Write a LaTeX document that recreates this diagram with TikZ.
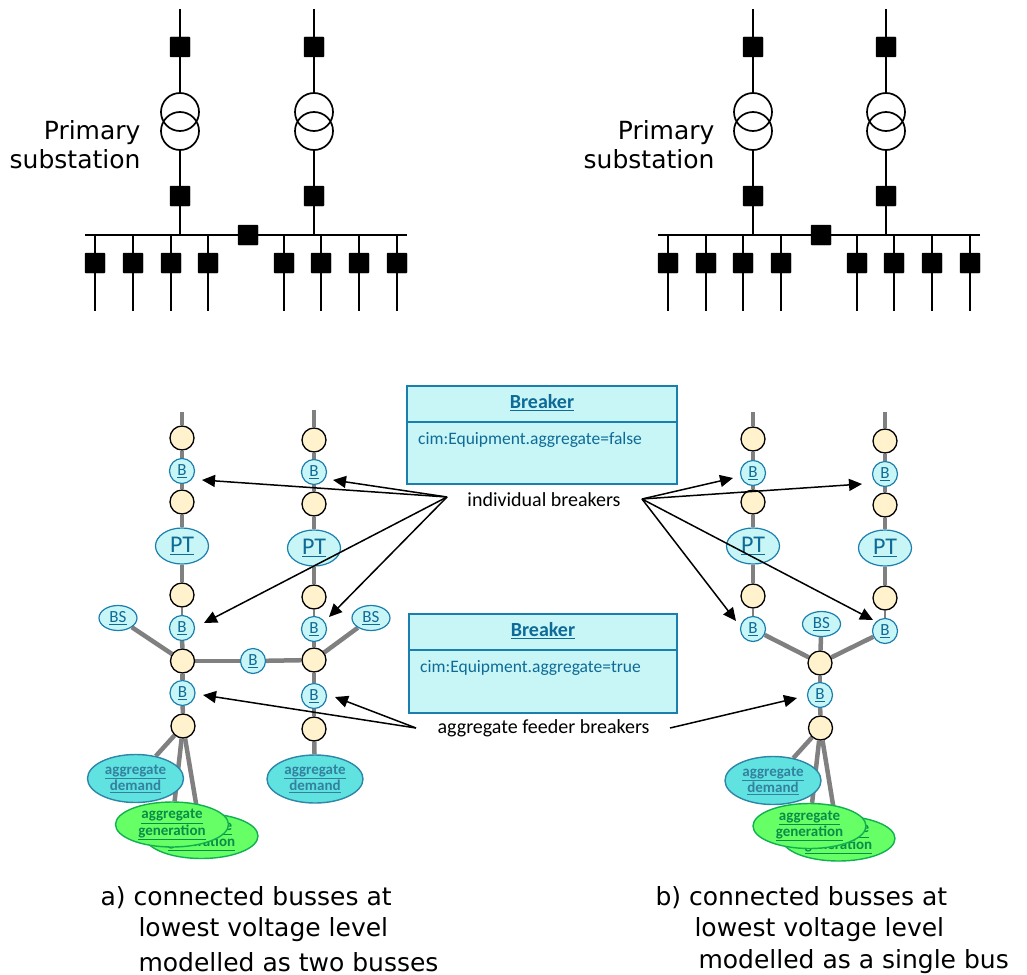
\documentclass[tikz,border=0pt]{standalone}
\usepackage{fontspec}
\setmainfont{DejaVu Sans}
\newfontfamily\carlito{Carlito}
\usetikzlibrary{shapes.geometric,backgrounds,arrows.meta}
\definecolor{objblue}{HTML}{1A7FAF}
\definecolor{objtext}{HTML}{0E6A96}
\definecolor{objfill}{HTML}{C8F6F6}
\definecolor{yardfill}{HTML}{FFF2CC}
\definecolor{demfill}{HTML}{60E3E0}
\definecolor{demline}{HTML}{2F85A5}
\definecolor{demtext}{HTML}{34809F}
\definecolor{genfill}{HTML}{66FF66}
\definecolor{genline}{HTML}{10B050}
\definecolor{gentext}{HTML}{0B8C48}
\tikzset{
  wire/.style={line width=1.7},
  bkr/.style={draw,fill=black,minimum size=20,inner sep=0,rounded corners=.6},
  xfmr/.style={draw,circle,line width=1.7,minimum size=38,inner sep=0},
  sublabel/.style={align=right,anchor=east,font=\fontsize{25}{29}\selectfont},
  caption/.style={anchor=west,font=\fontsize{25}{30}\selectfont},
  gline/.style={draw=black!50,line width=4.5},
  thinline/.style={draw=black!50,line width=2.2},
  yard/.style={draw,circle,fill=yardfill,line width=1.3,minimum size=24,inner sep=0},
  bobj/.style={draw=objblue,circle,fill=objfill,line width=1.2,minimum size=25,inner sep=0,text=objtext,font=\carlito\fontsize{17}{17}\selectfont},
  bsobj/.style={draw=objblue,ellipse,fill=objfill,line width=1.2,minimum width=38,minimum height=25,inner sep=0,text=objtext,font=\carlito\fontsize{17}{17}\selectfont},
  ptobj/.style={draw=objblue,ellipse,fill=objfill,line width=1.2,minimum width=53,minimum height=36,inner sep=0,text=objtext,font=\carlito\fontsize{24}{24}\selectfont},
  demand/.style={draw=demline,ellipse,fill=demfill,line width=1.4,minimum width=96,minimum height=48,inner sep=0,align=center,text=demtext,font=\carlito\bfseries\fontsize{15}{14}\selectfont},
  generation/.style={draw=genline,ellipse,fill=genfill,line width=1.4,minimum width=113,minimum height=45,inner sep=0,align=center,text=gentext,font=\carlito\bfseries\fontsize{15}{14.5}\selectfont},
  classbox/.style={draw=objblue,fill=objfill,line width=1.2,inner sep=0},
  classtitle/.style={text=objtext,font=\carlito\bfseries\fontsize{20}{20}\selectfont},
  classattr/.style={anchor=west,text=objtext,inner sep=0,font=\carlito\fontsize{17.5}{18}\selectfont},
  note/.style={font=\carlito\fontsize{20}{20}\selectfont},
  pointer/.style={-{Triangle[length=13,width=12]},line width=1.5}
}

\begin{document}
\begin{tikzpicture}[x=1pt,y=-1pt]
\useasboundingbox (0,0) rectangle (1027,974);

\coordinate (topa) at (0,9);
\coordinate (feedend) at (0,311);

% single line diagram, left
\node (qa1) [bkr] at (180,47) {};
\node (ta1) [xfmr] at (180,112) {};
\node (tb1) [xfmr] at (180,131) {};
\node (qb1) [bkr] at (180,196) {};
\node (qa2) [bkr] at (314,47) {};
\node (ta2) [xfmr] at (314,112) {};
\node (tb2) [xfmr] at (314,131) {};
\node (qb2) [bkr] at (314,196) {};
\coordinate (busl) at (85,235);
\coordinate (busr) at (407,235);
\node (qbus) [bkr] at (248,235) {};
\node (sublbl) [sublabel] at (144,145) {Primary\\substation};
\draw[wire] (qa1 |- topa) -- (qa1);
\draw[wire] (qa1) -- (ta1);
\draw[wire] (tb1) -- (qb1);
\draw[wire] (qb1) -- (qb1 |- busl);
\draw[wire] (qa2 |- topa) -- (qa2);
\draw[wire] (qa2) -- (ta2);
\draw[wire] (tb2) -- (qb2);
\draw[wire] (qb2) -- (qb2 |- busl);
\draw[wire] (busl) -- (busr);

\node (f1) [bkr] at (95,263) {};
\node (f2) [bkr] at (133,263) {};
\node (f3) [bkr] at (171,263) {};
\node (f4) [bkr] at (208,263) {};
\node (f5) [bkr] at (284,263) {};
\node (f6) [bkr] at (321,263) {};
\node (f7) [bkr] at (359,263) {};
\node (f8) [bkr] at (397,263) {};
\draw[wire] (f1 |- busl) -- (f1 |- feedend);
\draw[wire] (f2 |- busl) -- (f2 |- feedend);
\draw[wire] (f3 |- busl) -- (f3 |- feedend);
\draw[wire] (f4 |- busl) -- (f4 |- feedend);
\draw[wire] (f5 |- busl) -- (f5 |- feedend);
\draw[wire] (f6 |- busl) -- (f6 |- feedend);
\draw[wire] (f7 |- busl) -- (f7 |- feedend);
\draw[wire] (f8 |- busl) -- (f8 |- feedend);

% single line diagram, right
\node (rqa1) [bkr] at (753,47) {};
\node (rta1) [xfmr] at (753,112) {};
\node (rtb1) [xfmr] at (753,131) {};
\node (rqb1) [bkr] at (753,196) {};
\node (rqa2) [bkr] at (886,47) {};
\node (rta2) [xfmr] at (886,112) {};
\node (rtb2) [xfmr] at (886,131) {};
\node (rqb2) [bkr] at (886,196) {};
\coordinate (rbusl) at (658,235);
\coordinate (rbusr) at (980,235);
\node (rqbus) [bkr] at (821,235) {};
\node (rsublbl) [sublabel] at (718,145) {Primary\\substation};
\draw[wire] (rqa1 |- topa) -- (rqa1);
\draw[wire] (rqa1) -- (rta1);
\draw[wire] (rtb1) -- (rqb1);
\draw[wire] (rqb1) -- (rqb1 |- rbusl);
\draw[wire] (rqa2 |- topa) -- (rqa2);
\draw[wire] (rqa2) -- (rta2);
\draw[wire] (rtb2) -- (rqb2);
\draw[wire] (rqb2) -- (rqb2 |- rbusl);
\draw[wire] (rbusl) -- (rbusr);

\node (rf1) [bkr] at (668,263) {};
\node (rf2) [bkr] at (706,263) {};
\node (rf3) [bkr] at (743,263) {};
\node (rf4) [bkr] at (781,263) {};
\node (rf5) [bkr] at (857,263) {};
\node (rf6) [bkr] at (894,263) {};
\node (rf7) [bkr] at (932,263) {};
\node (rf8) [bkr] at (970,263) {};
\draw[wire] (rf1 |- rbusl) -- (rf1 |- feedend);
\draw[wire] (rf2 |- rbusl) -- (rf2 |- feedend);
\draw[wire] (rf3 |- rbusl) -- (rf3 |- feedend);
\draw[wire] (rf4 |- rbusl) -- (rf4 |- feedend);
\draw[wire] (rf5 |- rbusl) -- (rf5 |- feedend);
\draw[wire] (rf6 |- rbusl) -- (rf6 |- feedend);
\draw[wire] (rf7 |- rbusl) -- (rf7 |- feedend);
\draw[wire] (rf8 |- rbusl) -- (rf8 |- feedend);

% object model, left
\coordinate (la) at (182,412);
\node (ly1) [yard] at (182,438) {};
\node (lb1) [bobj] at (182,471) {\underline{B}};
\node (ly2) [yard] at (182,502) {};
\node (lpt1) [ptobj] at (182,546) {\underline{PT}};
\node (ly3) [yard] at (182,595) {};
\node (lb2) [bobj] at (182,628) {\underline{B}};
\node (lj1) [yard] at (182.5,661) {};
\node (lb3) [bobj] at (182.5,693) {\underline{B}};
\node (ly4) [yard] at (183,726) {};
\node (lbs1) [bsobj] at (118,618) {\underline{BS}};

\coordinate (lc) at (314,410);
\node (my1) [yard] at (314,440) {};
\node (mb1) [bobj] at (314,472) {\underline{B}};
\node (my2) [yard] at (314,504) {};
\node (mpt) [ptobj] at (314,548) {\underline{PT}};
\node (my3) [yard] at (314,597) {};
\node (mb2) [bobj] at (314,629) {\underline{B}};
\node (mj) [yard] at (314,660) {};
\node (mb3) [bobj] at (314,696) {\underline{B}};
\node (my4) [yard] at (314,729) {};
\node (mbs) [bsobj] at (371,618) {\underline{BS}};
\node (lbb) [bobj] at (253,661) {\underline{B}};

\node (ldem1) [demand] at (135.5,778.5) {\underline{aggregate}\\\underline{demand}};
\node (ldem2) [demand] at (315,779) {\underline{aggregate}\\\underline{demand}};
\node (lgen2) [generation] at (201.5,836) {\underline{aggregate}\\\underline{generation}};
\node (lgen1) [generation] at (172,824.5) {\underline{aggregate}\\\underline{generation}};

% object model, right
\coordinate (ra) at (753,412);
\node (ry1) [yard] at (753,439) {};
\node (rb1) [bobj] at (753,473) {\underline{B}};
\node (ry2) [yard] at (753,502) {};
\node (rpt1) [ptobj] at (753,546) {\underline{PT}};
\node (ry3) [yard] at (753,596) {};
\node (rb2) [bobj] at (753,629) {\underline{B}};

\coordinate (rc) at (885,412);
\node (sy1) [yard] at (885,441) {};
\node (sb1) [bobj] at (885,474) {\underline{B}};
\node (sy2) [yard] at (885,505) {};
\node (rpt2) [ptobj] at (885,548) {\underline{PT}};
\node (sy3) [yard] at (885,598) {};
\node (sb2) [bobj] at (885,631) {\underline{B}};

\node (rj) [yard] at (820,663) {};
\node (rbs) [bsobj] at (821.5,624) {\underline{BS}};
\node (rb3) [bobj] at (820,695) {\underline{B}};
\node (ry4) [yard] at (820.5,728) {};

\node (rdem) [demand] at (773,780.5) {\underline{aggregate}\\\underline{demand}};
\node (rgen2) [generation] at (838.5,838.5) {\underline{aggregate}\\\underline{generation}};
\node (rgen1) [generation] at (809.5,826) {\underline{aggregate}\\\underline{generation}};

\begin{pgfonlayer}{background}
\draw[gline] (la) -- (ly1);
\draw[gline] (ly1) -- (lb1);
\draw[gline] (lb1) -- (ly2);
\draw[gline] (ly2) -- (lpt1);
\draw[gline] (lpt1) -- (ly3);
\draw[thinline] (ly3) -- (lb2);
\draw[gline] (lb2) -- (lj1);
\draw[gline] (lj1) -- (lb3);
\draw[gline] (lb3) -- (ly4);
\draw[gline] (lj1) -- (lbs1);
\draw[gline] (lj1) -- (lbb);
\draw[gline] (lbb) -- (mj);
\draw[gline] (ly4) -- (ldem1);
\draw[gline] (ly4) -- (lgen1);
\draw[gline] (ly4) -- (lgen2);
\draw[gline] (lc) -- (my1);
\draw[gline] (my1) -- (mb1);
\draw[gline] (mb1) -- (my2);
\draw[gline] (my2) -- (mpt);
\draw[gline] (mpt) -- (my3);
\draw[thinline] (my3) -- (mb2);
\draw[gline] (mb2) -- (mj);
\draw[gline] (mj) -- (mb3);
\draw[gline] (mb3) -- (my4);
\draw[gline] (mj) -- (mbs);
\draw[gline] (my4) -- (ldem2);
\draw[gline] (ra) -- (ry1);
\draw[gline] (ry1) -- (rb1);
\draw[gline] (rb1) -- (ry2);
\draw[gline] (ry2) -- (rpt1);
\draw[gline] (rpt1) -- (ry3);
\draw[thinline] (ry3) -- (rb2);
\draw[gline] (rb2) -- (rj);
\draw[gline] (rc) -- (sy1);
\draw[gline] (sy1) -- (sb1);
\draw[gline] (sb1) -- (sy2);
\draw[gline] (sy2) -- (rpt2);
\draw[gline] (rpt2) -- (sy3);
\draw[thinline] (sy3) -- (sb2);
\draw[gline] (sb2) -- (rj);
\draw[gline] (rbs) -- (rj);
\draw[gline] (rj) -- (rb3);
\draw[gline] (rb3) -- (ry4);
\draw[gline] (ry4) -- (rdem);
\draw[gline] (ry4) -- (rgen1);
\draw[gline] (ry4) -- (rgen2);
\end{pgfonlayer}

% class boxes
\node (box1) [classbox,minimum width=270,minimum height=98] at (542,435) {};
\coordinate (box1l) at (407,422);
\coordinate (box1r) at (677,422);
\draw[draw=objblue,line width=1.2] (box1l) -- (box1r);
\node (box1t) [classtitle] at (542,403) {\underline{Breaker}};
\node (box1a) [classattr] at (418,440) {cim:Equipment.aggregate=false};

\node (box2) [classbox,minimum width=268,minimum height=99] at (543,663.5) {};
\coordinate (box2l) at (409,650);
\coordinate (box2r) at (677,650);
\draw[draw=objblue,line width=1.2] (box2l) -- (box2r);
\node (box2t) [classtitle] at (543,631) {\underline{Breaker}};
\node (box2a) [classattr] at (420,668) {cim:Equipment.aggregate=true};

% labels and pointers
\node (indiv) [note] at (544,500) {individual breakers};
\node (aggr) [note] at (543.5,728) {aggregate feeder breakers};

\coordinate (inl) at (447,497);
\coordinate (inr) at (642,499);
\coordinate (agl) at (416,728);
\coordinate (agr) at (670,728);
\coordinate (p1) at (202,480);
\coordinate (p2) at (333,480);
\coordinate (p3) at (204,623);
\coordinate (p4) at (329,617);
\coordinate (p5) at (733,478);
\coordinate (p6) at (862,484);
\coordinate (p7) at (736,621);
\coordinate (p8) at (873,620);
\coordinate (p9) at (203,695);
\coordinate (p10) at (335,697);
\coordinate (p11) at (797,698);
\draw[pointer] (inl) -- (p1);
\draw[pointer] (inl) -- (p2);
\draw[pointer] (inl) -- (p3);
\draw[pointer] (inl) -- (p4);
\draw[pointer] (inr) -- (p5);
\draw[pointer] (inr) -- (p6);
\draw[pointer] (inr) -- (p7);
\draw[pointer] (inr) -- (p8);
\draw[pointer] (agl) -- (p9);
\draw[pointer] (agl) -- (p10);
\draw[pointer] (agr) -- (p11);

% captions
\node (capa1) [caption] at (97,898) {a) connected busses at};
\node (capa2) [caption] at (135,930) {lowest voltage level};
\node (capa3) [caption] at (135,962) {modelled as two busses};
\node (capb1) [caption] at (652,898) {b) connected busses at};
\node (capb2) [caption] at (691,930) {lowest voltage level};
\node (capb3) [caption] at (695,962) {modelled as a single bus};

\end{tikzpicture}
\end{document}
